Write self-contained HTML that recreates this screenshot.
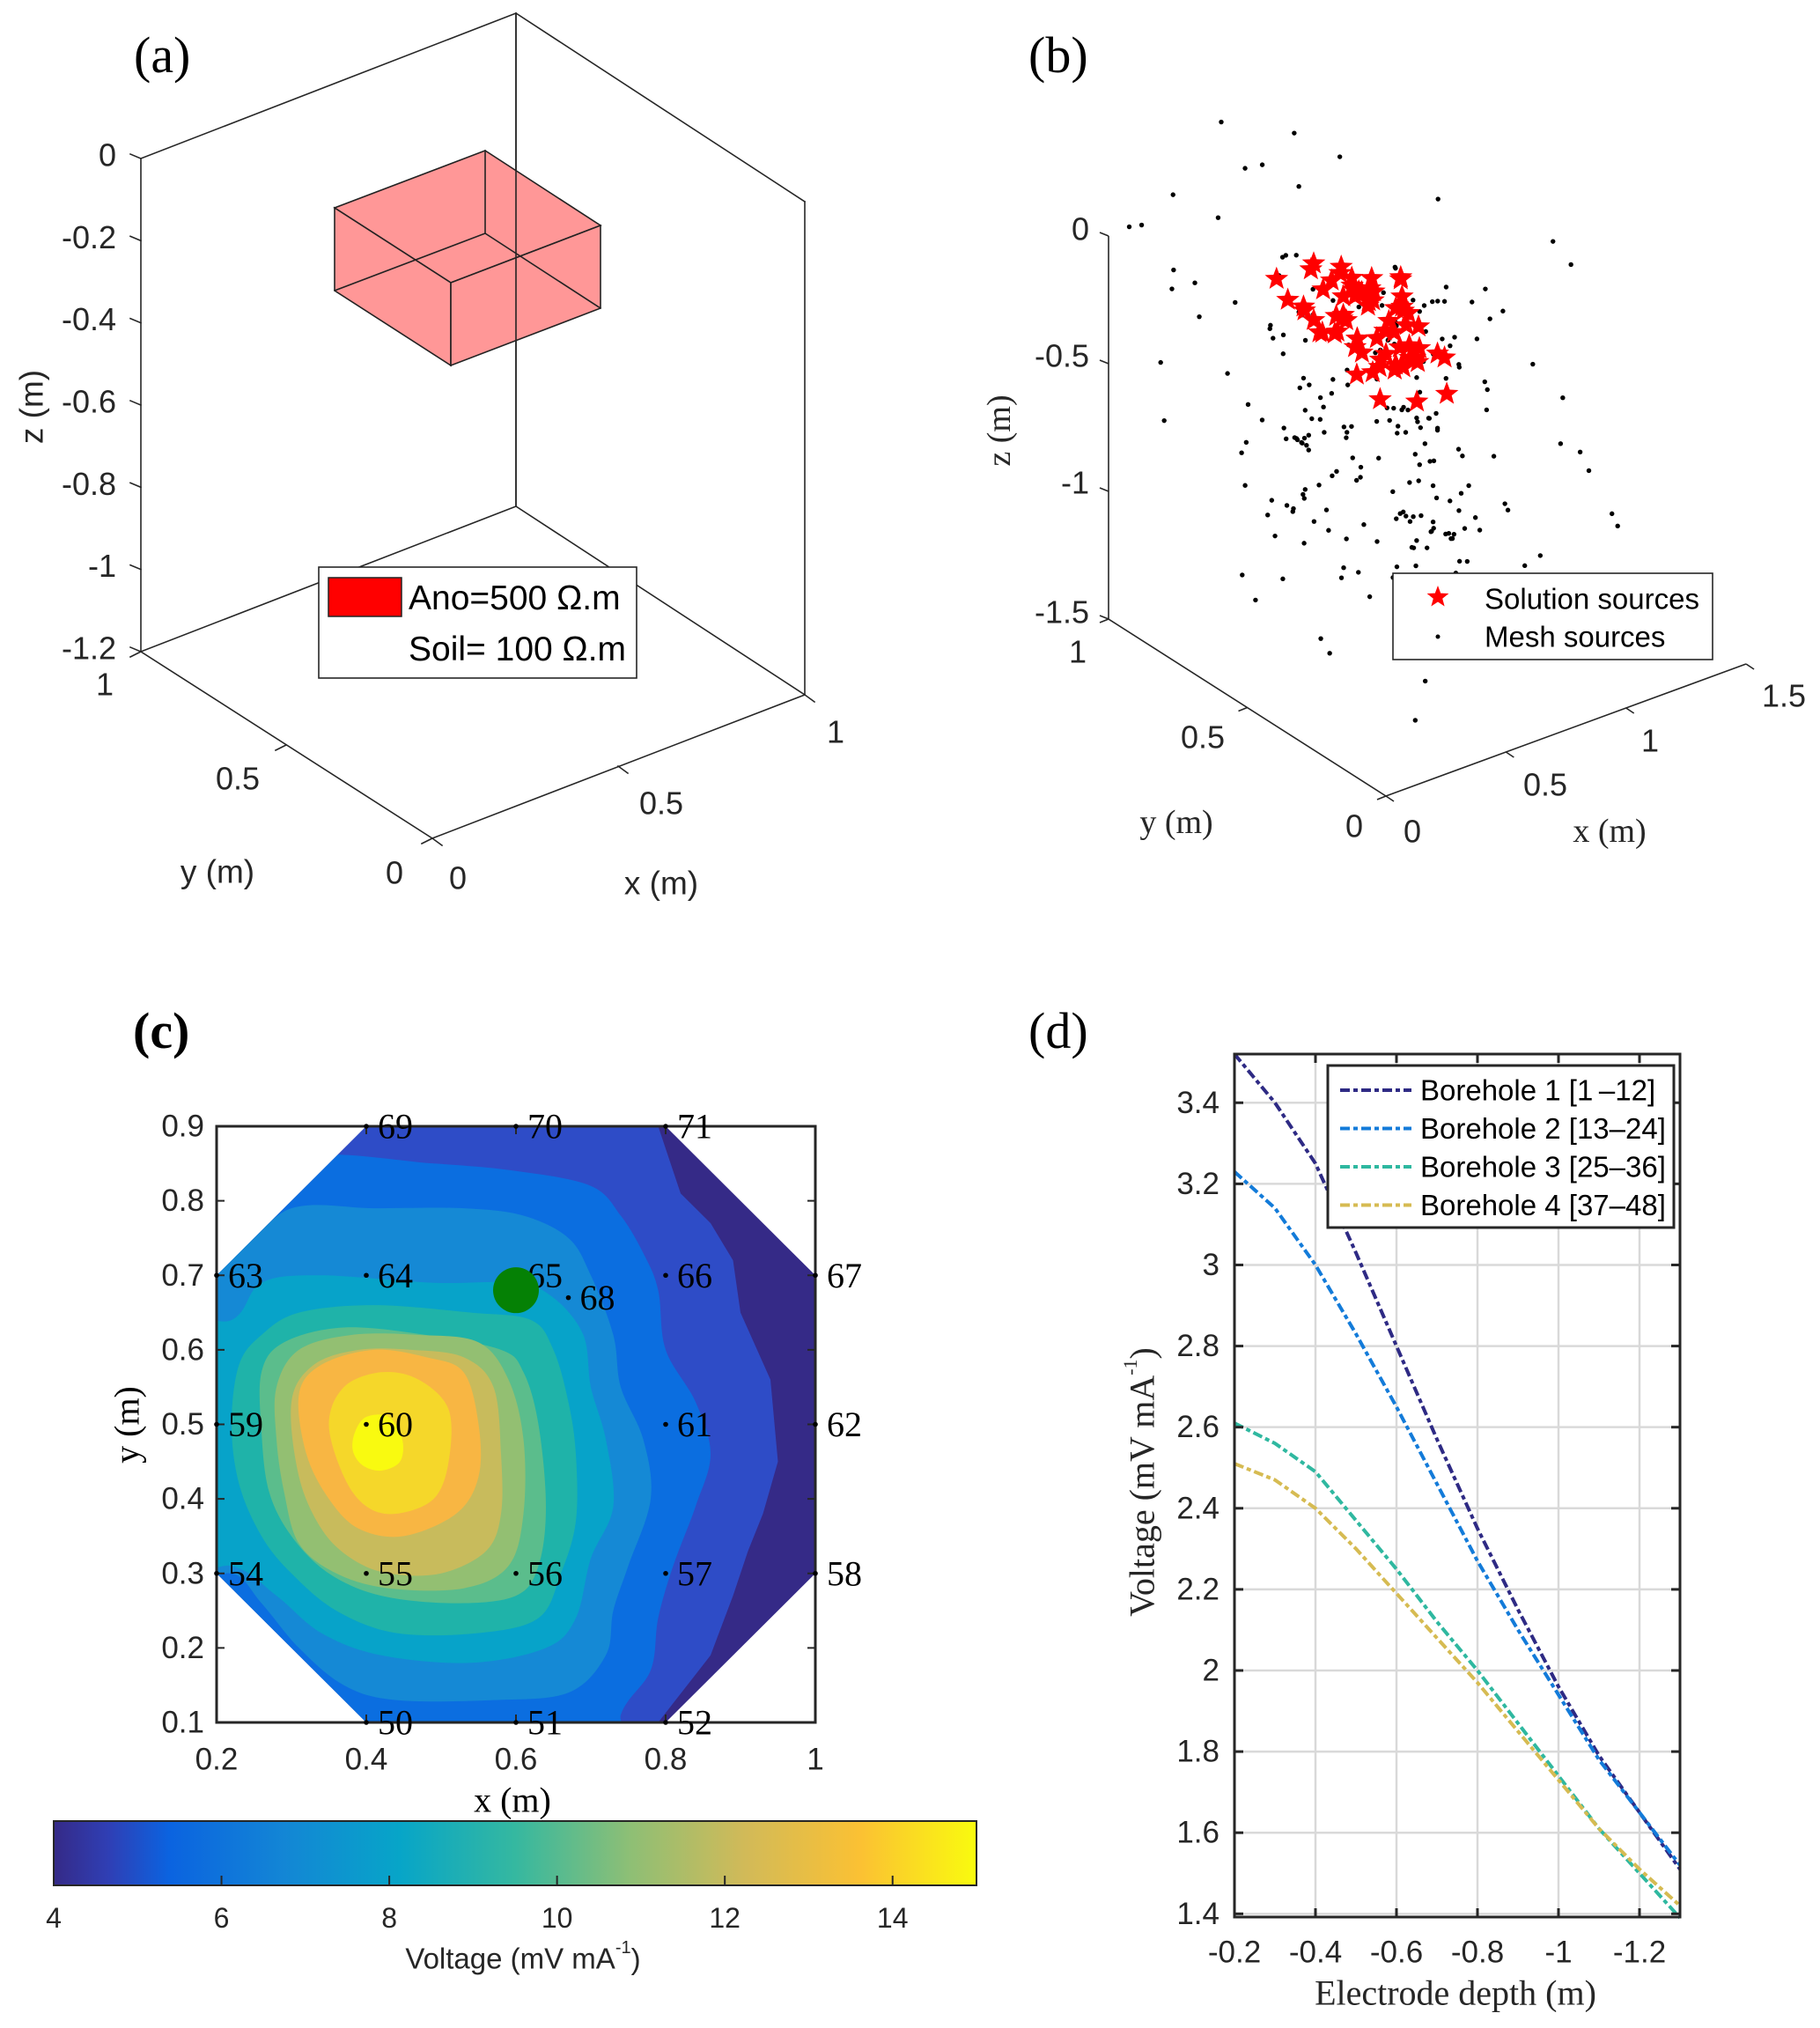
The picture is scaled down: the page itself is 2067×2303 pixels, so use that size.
<!DOCTYPE html>
<html><head><meta charset="utf-8"><style>
html,body{margin:0;padding:0;background:#fff;}
svg{display:block;}
.sans{font-family:"Liberation Sans",sans-serif;}
.serif{font-family:"Liberation Serif",serif;}
</style></head>
<body>
<svg id="fig" width="2067" height="2303" viewBox="0 0 2067 2303" xmlns="http://www.w3.org/2000/svg">
<rect width="2067" height="2303" fill="#fff"/>

<!-- Panel (a) -->
<g id="pa" stroke-linecap="square">
  <text x="152" y="82" class="serif" font-size="58">(a)</text>
  <g stroke="#262626" stroke-width="1.6" fill="none">
    <polyline points="160,180 586,15 914,229"/>
    <line x1="586" y1="15" x2="586" y2="575"/>
    <polyline points="160,740 586,575 914,789"/>
    <line x1="160" y1="180" x2="160" y2="740"/>
    <line x1="914" y1="229" x2="914" y2="789"/>
    <polyline points="160,740 491,952 914,789"/>
  </g>
  <g stroke="#222" stroke-width="1.6">
    <polygon points="380,236 551,171 682,256 512,321" fill="#ff8c8c" fill-opacity="0.9"/>
    <polygon points="380,236 512,321 512,415 380,330" fill="#ff8c8c" fill-opacity="0.9"/>
    <polygon points="512,321 682,256 682,350 512,415" fill="#ff8c8c" fill-opacity="0.9"/>
    <polyline points="380,330 551,265 682,350" fill="none"/>
    <line x1="551" y1="171" x2="551" y2="265"/>
    <line x1="586" y1="15" x2="586" y2="575" stroke="#262626"/>
  </g>
  <g id="pa-zt" class="sans" font-size="36" fill="#262626" text-anchor="end"></g>
  <text transform="translate(36,462) rotate(-90)" class="sans" font-size="37" text-anchor="middle" dominant-baseline="central" fill="#262626">z (m)</text>
  <g class="sans" font-size="36" fill="#262626" text-anchor="middle" dominant-baseline="central">
    <text x="119" y="777">1</text><text x="270" y="884">0.5</text><text x="448" y="991">0</text>
    <text x="520" y="997">0</text><text x="751" y="912">0.5</text><text x="949" y="831">1</text>
  </g>
  <g stroke="#262626" stroke-width="1.6">
    <line x1="160" y1="740" x2="148" y2="746"/><line x1="325" y1="846" x2="313" y2="852"/><line x1="491" y1="952" x2="479" y2="958"/>
    <line x1="491" y1="952" x2="502" y2="960"/><line x1="702" y1="870" x2="713" y2="878"/><line x1="914" y1="789" x2="925" y2="797"/>
  </g>
  <text x="247" y="990" class="sans" font-size="37" text-anchor="middle" dominant-baseline="central" fill="#262626">y (m)</text>
  <text x="751" y="1003" class="sans" font-size="37" text-anchor="middle" dominant-baseline="central" fill="#262626">x (m)</text>
  <g>
    <rect x="362" y="644" width="361" height="126" fill="#fff" stroke="#262626" stroke-width="1.6"/>
    <rect x="373" y="656" width="83" height="44" fill="#ff0000" stroke="#222" stroke-width="1.5"/>
    <text x="464" y="692" class="sans" font-size="39" fill="#000">Ano=500 Ω.m</text>
    <text x="464" y="750" class="sans" font-size="39" fill="#000">Soil= 100 Ω.m</text>
  </g>
</g>

<!-- Panel (b) -->
<g id="pb">
  <text x="1168" y="82" class="serif" font-size="58">(b)</text>
  <g stroke="#262626" stroke-width="1.6" fill="none">
    <polyline points="1259,268 1259,703 1574,904 1983,754"/>
  </g>
  <g id="pb-ticks" stroke="#262626" stroke-width="1.6"></g>
  <g id="pb-dots"></g>
  <g id="pb-stars"></g>
  <g class="sans" font-size="36" fill="#262626" text-anchor="end" dominant-baseline="central">
    <text x="1237" y="260">0</text><text x="1237" y="404">-0.5</text><text x="1237" y="548">-1</text><text x="1237" y="695">-1.5</text>
  </g>
  <g class="sans" font-size="36" fill="#262626" text-anchor="middle" dominant-baseline="central">
    <text x="1224" y="740">1</text><text x="1366" y="837">0.5</text><text x="1538" y="938">0</text>
    <text x="1604" y="944">0</text><text x="1755" y="891">0.5</text><text x="1874" y="841">1</text><text x="2026" y="790">1.5</text>
  </g>
  <text transform="translate(1135,489) rotate(-90)" class="serif" font-size="38" text-anchor="middle" dominant-baseline="central" fill="#262626">z (m)</text>
  <text x="1336" y="934" class="serif" font-size="38" text-anchor="middle" dominant-baseline="central" fill="#262626">y (m)</text>
  <text x="1828" y="944" class="serif" font-size="38" text-anchor="middle" dominant-baseline="central" fill="#262626">x (m)</text>
  <g>
    <rect x="1582" y="651" width="363" height="98" fill="#fff" stroke="#262626" stroke-width="1.6"/>
    <path id="legstar" fill="#ff0000"/>
    <circle cx="1633" cy="723" r="2.5" fill="#000"/>
    <text x="1686" y="680" class="sans" font-size="33" dominant-baseline="central">Solution sources</text>
    <text x="1686" y="723" class="sans" font-size="33" dominant-baseline="central">Mesh sources</text>
  </g>
</g>

<!-- Panel (c) -->
<g id="pc">
  <text x="151" y="1190" class="serif" font-size="58" font-weight="bold">(c)</text>
  <defs>
    <clipPath id="oct"><polygon id="octpoly"/></clipPath>
    <linearGradient id="parula" x1="0" x2="1" y1="0" y2="0">
      <stop offset="0" stop-color="#352a87"/><stop offset="0.06" stop-color="#2f3fb5"/><stop offset="0.125" stop-color="#0b63e0"/>
      <stop offset="0.25" stop-color="#1386d5"/><stop offset="0.375" stop-color="#07a5c8"/><stop offset="0.5" stop-color="#35b8a0"/>
      <stop offset="0.625" stop-color="#8ebf75"/><stop offset="0.75" stop-color="#d2ba58"/><stop offset="0.875" stop-color="#fbc133"/>
      <stop offset="1" stop-color="#f9fb0e"/>
    </linearGradient>
  </defs>
  <g id="pc-contours" clip-path="url(#oct)"></g>
  <rect x="246" y="1279" width="680" height="677" fill="none" stroke="#262626" stroke-width="3"/>
  <g id="pc-ticks"></g>
  <g id="pc-elec"></g>
  <circle id="greendot" r="26" fill="#058105"/>
  <text x="582" y="2044" class="serif" font-size="40" text-anchor="middle" dominant-baseline="central">x (m)</text>
  <text transform="translate(144,1618) rotate(-90)" class="serif" font-size="40" text-anchor="middle" dominant-baseline="central">y (m)</text>
  <rect x="61" y="2068" width="1048" height="73" fill="url(#parula)" stroke="#262626" stroke-width="2"/>
  <g id="cb-ticks"></g>
  <text x="594" y="2224" class="sans" font-size="33" text-anchor="middle" dominant-baseline="central" fill="#262626">Voltage (mV mA<tspan dy="-12" font-size="20">-1</tspan><tspan dy="12">)</tspan></text>
</g>

<!-- Panel (d) -->
<g id="pd">
  <text x="1168" y="1190" class="serif" font-size="58">(d)</text>
  <g id="pd-grid"></g>
  <g id="pd-lines"></g>
  <rect x="1402" y="1197" width="506" height="980" fill="none" stroke="#262626" stroke-width="3"/>
  <g id="pd-ticks"></g>
  <text x="1653" y="2263" class="serif" font-size="40" text-anchor="middle" dominant-baseline="central" fill="#262626">Electrode depth (m)</text>
  <text transform="translate(1297,1683) rotate(-90)" class="serif" font-size="40" text-anchor="middle" dominant-baseline="central" fill="#262626">Voltage (mV mA<tspan dy="-14" font-size="22">-1</tspan><tspan dy="14">)</tspan></text>
  <g id="pd-legend">
    <rect x="1508" y="1210" width="393" height="184" fill="#fff" stroke="#262626" stroke-width="3"/>
  </g>
</g>
</svg>

<script>
const NS = "http://www.w3.org/2000/svg";
function mk(tag, attrs, parent){ const e=document.createElementNS(NS,tag); for(const k in attrs) e.setAttribute(k,attrs[k]); parent.appendChild(e); return e; }

// ---------- Panel (a) ticks ----------
const zTicksA = [0,-0.2,-0.4,-0.6,-0.8,-1,-1.2];
const zTickLabelsA = ["0","-0.2","-0.4","-0.6","-0.8","-1","-1.2"];
(function(){
  const g=document.getElementById('pa-zt');
  const zy = v => 180 + (0 - v)/1.2*(740-180);
  zTicksA.forEach((v,i)=>{
    const t=mk('text',{x:132,y:zy(v)-4,'dominant-baseline':'central'},g);
    
    
    t.textContent=zTickLabelsA[i];
    const l=mk('line',{x1:160,y1:zy(v),x2:148,y2:zy(v)-5,stroke:'#262626','stroke-width':1.6},g);
    
    
  });
})();

// ---------- Panel (b) scatter ----------
const meshX=[0.12,0.85,0.43,0.67,0.29,0.95,0.51,0.08,0.74,0.36,1.05,0.22,0.60,0.88,0.15,0.47,0.79,0.33,0.98,0.55,0.05,0.70,0.41,1.12,0.26,0.63,0.91,0.18,0.52,0.83,0.38,0.02,0.76,0.45,1.08,0.31,0.66,0.94,0.10,0.58,0.81,0.24,1.15,0.49,0.72,0.35,0.90,0.14,0.62,1.00,0.40,0.77,0.20,0.56,0.86,0.30,1.10,0.68,0.44,0.07,0.93,0.53,0.27,0.80,0.39,1.02,0.16,0.64,0.89,0.48,0.23,0.75,0.57,0.97,0.34,0.11,0.69,0.46,0.84,0.28,1.06,0.59,0.19,0.73,0.42,0.96,0.32,0.65,0.09,0.87,0.50,0.25,0.78,0.37,1.13,0.61,0.17,0.82,0.54,0.04,0.71,0.44,0.99,0.30,0.66,0.13,0.92,0.58,0.21,0.76,0.40,1.04,0.52,0.86,0.35,0.70,0.06,0.62,0.95,0.27,
0.45,0.52,0.38,0.61,0.29,0.70,0.55,0.42,0.66,0.33,0.58,0.47,0.74,0.36,0.50,0.63,0.27,0.56,0.44,0.68,0.31,0.59,0.48,0.72,0.39,0.53,0.64,0.35,0.46,0.60,0.41,0.77,0.51,0.34,0.57,0.43,0.69,0.37,0.62,0.49,
0.58,0.36,0.71,0.44,0.50,0.26,0.65,0.40,0.82,0.53,0.31,0.61,0.47,0.75,0.38,0.56,0.68,0.43,0.29,0.60,0.52,0.79,0.35,0.64,0.45,0.72,0.33,0.57,0.48,0.85,0.41,0.62,0.54,0.30,0.69,0.46,0.76,0.39,0.59,0.51,
0.63,0.40,0.55,0.32,0.74,0.47,0.28,0.67,0.51,0.84,0.37,0.60,0.44,0.71,0.34,0.57,0.80,0.49,0.25,0.65,0.42,0.73,0.54,0.30,0.61,0.46,0.88,0.38,0.58,0.69,0.43,0.52,0.77,0.35,0.66,0.48,0.59,0.27,0.70,0.45];
const meshY=[0.55,0.20,0.88,0.41,0.07,0.66,0.32,0.95,0.14,0.73,0.48,0.27,0.85,0.03,0.60,0.38,0.92,0.18,0.51,0.79,0.25,0.62,0.10,0.44,0.83,0.30,0.69,0.05,0.57,0.36,0.90,0.22,0.47,0.76,0.12,0.64,0.34,0.98,0.42,0.08,0.71,0.53,0.16,0.87,0.29,0.60,0.39,0.81,0.23,0.50,0.94,0.11,0.67,0.45,0.02,0.78,0.35,0.58,0.19,0.86,0.43,0.70,0.26,0.63,0.09,0.52,0.91,0.31,0.74,0.15,0.56,0.84,0.40,0.21,0.68,0.33,0.97,0.49,0.06,0.75,0.28,0.61,0.93,0.37,0.13,0.80,0.54,0.24,0.89,0.46,0.17,0.72,0.59,0.01,0.65,0.42,0.82,0.27,0.50,0.96,0.38,0.15,0.77,0.55,0.30,0.88,0.44,0.68,0.04,0.62,0.35,0.20,0.85,0.48,0.10,0.73,0.57,0.32,0.92,0.66,
0.48,0.35,0.62,0.28,0.55,0.42,0.67,0.31,0.50,0.58,0.25,0.44,0.60,0.37,0.70,0.33,0.52,0.46,0.64,0.29,0.57,0.40,0.72,0.36,0.49,0.61,0.27,0.54,0.43,0.66,0.32,0.51,0.39,0.63,0.45,0.30,0.56,0.68,0.41,0.53,
0.33,0.59,0.45,0.71,0.26,0.52,0.38,0.64,0.47,0.30,0.68,0.41,0.55,0.23,0.62,0.36,0.49,0.74,0.57,0.40,0.28,0.53,0.66,0.44,0.35,0.61,0.50,0.77,0.39,0.46,0.58,0.31,0.69,0.42,0.54,0.25,0.63,0.48,0.37,0.72,
0.41,0.66,0.29,0.54,0.47,0.73,0.38,0.60,0.32,0.51,0.69,0.44,0.27,0.58,0.49,0.35,0.63,0.42,0.76,0.53,0.30,0.67,0.46,0.57,0.39,0.70,0.34,0.52,0.61,0.43,0.25,0.59,0.48,0.71,0.36,0.55,0.40,0.65,0.50,0.31];
const meshZ=[-0.45,-1.10,0.20,-0.80,-0.15,-1.25,-0.60,0.05,-0.95,-0.30,-1.05,-0.70,0.30,-0.55,-1.20,-0.10,-0.85,-0.40,-1.15,0.15,-0.65,-0.25,-1.00,-0.50,0.10,-0.90,-0.35,-1.30,-0.75,-0.05,-0.60,-1.10,0.25,-0.45,-0.85,-1.20,-0.20,0.00,-0.70,-1.00,-0.30,-0.55,-0.95,0.20,-1.15,-0.40,-0.75,-0.10,-1.25,-0.60,0.35,-0.90,-0.50,-0.15,-1.05,-0.80,0.05,-0.35,-1.20,-0.65,-0.25,-0.95,-0.45,-1.10,0.10,-0.70,-0.20,-1.30,-0.55,-0.85,0.15,-0.40,-1.00,-0.60,-0.05,-1.15,-0.30,-0.75,0.25,-0.90,-0.50,-1.25,-0.15,-0.65,-1.05,-0.35,0.00,-0.80,-0.45,-1.20,-0.10,-0.70,-0.95,0.30,-0.55,-1.10,-0.25,-0.85,-0.40,0.05,-1.00,-0.60,-1.30,-0.20,-0.75,0.20,-0.50,-0.90,-1.15,-0.35,-0.05,-0.65,-1.25,-0.45,0.10,-0.80,-1.05,-0.30,-0.55,-0.95,
-0.70,-0.95,-0.55,-1.05,-0.80,-0.60,-0.90,-1.15,-0.65,-0.85,-1.00,-0.50,-0.75,-1.10,-0.68,-0.92,-0.58,-0.82,-1.02,-0.72,-0.62,-0.98,-0.78,-0.88,-1.08,-0.66,-0.86,-0.52,-0.96,-0.74,-1.12,-0.64,-0.84,-0.94,-0.56,-0.76,-1.04,-0.70,-0.90,-0.80,
-0.88,-0.62,-1.02,-0.74,-0.54,-0.96,-0.82,-0.68,-1.10,-0.58,-0.92,-0.76,-0.64,-1.06,-0.86,-0.50,-0.98,-0.72,-0.60,-1.14,-0.80,-0.66,-0.94,-0.56,-1.00,-0.70,-0.84,-0.62,-1.08,-0.78,-0.52,-0.90,-0.74,-1.04,-0.60,-0.86,-0.68,-0.96,-0.58,-0.82,
-0.30,-0.20,-0.45,-0.10,-0.35,-0.05,-0.25,-0.40,0.00,-0.15,-0.30,-0.50,-0.20,-0.08,-0.38,-0.12,-0.28,-0.44,-0.18,-0.02,-0.33,-0.48,-0.22,-0.40,-0.06,-0.26,-0.14,-0.36,-0.46,-0.10,-0.24,-0.42,-0.16,-0.32,-0.04,-0.28,-0.50,-0.20,-0.38,-0.12];
const starX=[0.35,0.42,0.50,0.58,0.65,0.38,0.45,0.55,0.62,0.70,0.30,0.48,0.53,0.60,0.40,0.57,0.66,0.44,0.51,0.36,0.63,0.47,0.54,0.72,0.33,0.59,0.41,0.68,0.49,0.56,
0.40,0.47,0.52,0.58,0.44,0.50,0.55,0.61,0.37,0.43,0.49,0.56,0.63,0.46,0.53,0.59,0.41,0.48,0.54,0.60,0.39,0.45,0.51,0.57,0.64,0.42,0.50,0.55,0.62,0.46,0.52,0.58,0.44,0.49,0.54,0.61,0.40,0.47,0.53,0.59];
const starY=[0.60,0.45,0.55,0.40,0.50,0.35,0.65,0.48,0.58,0.42,0.52,0.38,0.62,0.30,0.70,0.44,0.36,0.56,0.33,0.47,0.61,0.53,0.41,0.57,0.68,0.50,0.46,0.64,0.59,0.37,
0.50,0.55,0.45,0.60,0.40,0.52,0.58,0.47,0.56,0.42,0.62,0.38,0.51,0.46,0.57,0.43,0.53,0.60,0.35,0.49,0.44,0.66,0.41,0.54,0.48,0.59,0.37,0.63,0.45,0.52,0.40,0.56,0.61,0.34,0.50,0.47,0.64,0.43,0.57,0.39];
const starZ=[-0.12,-0.22,-0.07,-0.27,-0.17,-0.32,-0.02,-0.20,-0.14,-0.30,-0.10,-0.24,-0.04,-0.34,-0.18,0.03,-0.26,-0.16,-0.36,-0.08,-0.22,0.00,-0.28,-0.12,-0.06,-0.19,-0.31,-0.15,-0.03,-0.25,
-0.10,-0.18,-0.26,-0.14,-0.22,-0.06,-0.30,-0.12,-0.20,-0.28,-0.08,-0.24,-0.16,-0.04,-0.32,-0.11,-0.19,-0.27,-0.09,-0.23,-0.15,-0.05,-0.29,-0.13,-0.21,-0.07,-0.25,-0.17,-0.31,-0.02,-0.20,-0.10,-0.26,-0.14,-0.24,-0.08,-0.18,-0.28,-0.12,-0.22];
const projB = (x,y,z) => [1574 + x*272.7 - y*315, 904 - x*100 - y*201 - (z+1.5)*290];
function starPath(cx,cy,r){
  let d='';
  for(let i=0;i<10;i++){
    const a=-Math.PI/2+i*Math.PI/5, rr=(i%2?r*0.42:r);
    d+=(i?'L':'M')+(cx+rr*Math.cos(a)).toFixed(1)+','+(cy+rr*Math.sin(a)).toFixed(1);
  }
  return d+'Z';
}
(function(){
  const gd=document.getElementById('pb-dots');
  const n=Math.min(meshX.length,meshY.length,meshZ.length);
  for(let i=0;i<n;i++){
    const p=projB(meshX[i],meshY[i],meshZ[i]);
    const c=mk('circle',{cx:p[0],cy:p[1],r:2.7,fill:'#000'},gd);
    
    
  }
  const gs=document.getElementById('pb-stars');
  const m=Math.min(starX.length,starY.length,starZ.length);
  for(let i=0;i<m;i++){
    const p=projB(starX[i],starY[i],starZ[i]);
    const s=mk('path',{d:starPath(p[0],p[1],14),fill:'#ff0000'},gs);
    
    
  }
  document.getElementById('legstar').setAttribute('d',starPath(1633,678,13));
  const gt=document.getElementById('pb-ticks');
  [0,-0.5,-1,-1.5].forEach(z=>{const p=projB(0,1,z); mk('line',{x1:p[0],y1:p[1],x2:p[0]-10,y2:p[1]-4},gt);});
  [0,0.5,1].forEach(y=>{const p=projB(0,y,-1.5); mk('line',{x1:p[0],y1:p[1],x2:p[0]-10,y2:p[1]+4},gt);});
  [0,0.5,1,1.5].forEach(x=>{const p=projB(x,0,-1.5); mk('line',{x1:p[0],y1:p[1],x2:p[0]+9,y2:p[1]+6},gt);});
})();

// ---------- Panel (c) contours ----------
const cxs = x => 246 + (x-0.2)*850;
const cys = y => 1279 + (0.9-y)*846.25;
const octagon=[[0.4,0.9],[0.8,0.9],[1.0,0.7],[1.0,0.3],[0.8,0.1],[0.4,0.1],[0.2,0.3],[0.2,0.7]];
const levelColors=["#352a87","#2e4cc7","#0b6ee0","#1589d5","#07a3c9","#1fb3a9","#5bbd8c","#93bf72","#c8bb5c","#f8b643","#f5d72a","#f9fa10"];
const lev1=[[0.1,0],[1.1,0],[1.1,1],[0.1,1]];
const lev2=[[0.1,0.05],[0.1,0.95],[0.76,0.98],[0.79,0.9],[0.82,0.81],[0.86,0.77],[0.89,0.72],[0.9,0.65],[0.94,0.56],[0.95,0.45],[0.93,0.38],[0.91,0.33],[0.89,0.27],[0.86,0.19],[0.79,0.1],[0.76,0.02]];
const lev3=[[0.1,0.05],[0.1,0.8],[0.3,0.86],[0.49,0.85],[0.6,0.84],[0.7,0.82],[0.74,0.78],[0.77,0.73],[0.79,0.68],[0.8,0.6],[0.84,0.53],[0.86,0.46],[0.84,0.39],[0.81,0.31],[0.79,0.24],[0.78,0.17],[0.74,0.11],[0.73,0.02]];
const lev4=[[0.1,0.3],[0.12,0.74],[0.22,0.73],[0.3,0.79],[0.41,0.79],[0.53,0.79],[0.61,0.78],[0.67,0.75],[0.7,0.7],[0.73,0.62],[0.74,0.55],[0.77,0.48],[0.78,0.4],[0.75,0.31],[0.73,0.25],[0.72,0.19],[0.67,0.14],[0.57,0.13],[0.44,0.13],[0.37,0.15],[0.31,0.2],[0.26,0.26],[0.22,0.3],[0.15,0.28]];
const lev5=[[0.12,0.31],[0.12,0.62],[0.22,0.64],[0.26,0.69],[0.34,0.7],[0.49,0.69],[0.6,0.69],[0.65,0.67],[0.69,0.62],[0.7,0.55],[0.72,0.48],[0.73,0.39],[0.7,0.32],[0.68,0.24],[0.64,0.2],[0.54,0.18],[0.42,0.19],[0.34,0.22],[0.28,0.27],[0.22,0.31]];
const lev6=[[0.23,0.58],[0.26,0.62],[0.31,0.65],[0.41,0.66],[0.54,0.65],[0.62,0.64],[0.65,0.6],[0.67,0.53],[0.68,0.46],[0.68,0.37],[0.66,0.3],[0.63,0.24],[0.55,0.22],[0.44,0.22],[0.36,0.25],[0.3,0.3],[0.26,0.35],[0.23,0.42],[0.22,0.5]];
const lev7=[[0.26,0.57],[0.29,0.61],[0.37,0.63],[0.48,0.62],[0.58,0.6],[0.61,0.57],[0.63,0.5],[0.64,0.39],[0.63,0.31],[0.6,0.27],[0.52,0.26],[0.42,0.27],[0.35,0.3],[0.3,0.35],[0.27,0.41],[0.26,0.49]];
const lev8=[[0.28,0.55],[0.31,0.6],[0.38,0.62],[0.47,0.62],[0.55,0.61],[0.59,0.56],[0.61,0.48],[0.61,0.38],[0.59,0.31],[0.53,0.28],[0.43,0.28],[0.36,0.3],[0.31,0.34],[0.29,0.41],[0.28,0.48]];
const lev9=[[0.3,0.53],[0.33,0.58],[0.39,0.6],[0.46,0.6],[0.53,0.59],[0.57,0.55],[0.58,0.46],[0.58,0.38],[0.56,0.33],[0.5,0.3],[0.43,0.3],[0.38,0.32],[0.34,0.36],[0.31,0.43]];
const lev10=[[0.31,0.54],[0.34,0.58],[0.41,0.6],[0.48,0.59],[0.53,0.57],[0.55,0.5],[0.55,0.43],[0.52,0.38],[0.45,0.35],[0.39,0.36],[0.35,0.4],[0.32,0.46]];
const lev11=[[0.35,0.5],[0.37,0.55],[0.42,0.57],[0.47,0.56],[0.51,0.52],[0.51,0.45],[0.49,0.4],[0.44,0.38],[0.4,0.39],[0.37,0.43]];
const lev12=[[0.385,0.49],[0.4,0.51],[0.43,0.51],[0.448,0.48],[0.445,0.45],[0.42,0.438],[0.395,0.445],[0.382,0.465]];
const levels=[lev1,lev2,lev3,lev4,lev5,lev6,lev7,lev8,lev9,lev10,lev11,lev12];
const cTicksX=[0.2,0.4,0.6,0.8,1.0], cTickLabelsX=["0.2","0.4","0.6","0.8","1"];
const cTicksY=[0.1,0.2,0.3,0.4,0.5,0.6,0.7,0.8,0.9], cTickLabelsY=["0.1","0.2","0.3","0.4","0.5","0.6","0.7","0.8","0.9"];
const elecX=[0.4,0.6,0.8,0.2,0.4,0.6,0.8,1.0,0.67,0.2,0.4,0.8,1.0,0.2,0.4,0.6,0.8,1.0,0.4,0.6,0.8];
const elecY=[0.9,0.9,0.9,0.7,0.7,0.7,0.7,0.7,0.67,0.5,0.5,0.5,0.5,0.3,0.3,0.3,0.3,0.3,0.1,0.1,0.1];
const elecLabels=["69","70","71","63","64","65","66","67","68","59","60","61","62","54","55","56","57","58","50","51","52"];
const sourcePos=[0.6,0.68];
const cbTicks=[4,6,8,10,12,14];
const cbMin=4, cbMax=15;
function smoothClosed(P){
  const n=P.length; let d='M'+P[0][0].toFixed(1)+','+P[0][1].toFixed(1);
  for(let i=0;i<n;i++){
    const p0=P[(i-1+n)%n],p1=P[i],p2=P[(i+1)%n],p3=P[(i+2)%n];
    const c1=[p1[0]+(p2[0]-p0[0])/6,p1[1]+(p2[1]-p0[1])/6];
    const c2=[p2[0]-(p3[0]-p1[0])/6,p2[1]-(p3[1]-p1[1])/6];
    d+='C'+c1[0].toFixed(1)+','+c1[1].toFixed(1)+' '+c2[0].toFixed(1)+','+c2[1].toFixed(1)+' '+p2[0].toFixed(1)+','+p2[1].toFixed(1);
  }
  return d+'Z';
}
(function(){
  const pts = arr => arr.map(p=>cxs(p[0]).toFixed(1)+','+cys(p[1]).toFixed(1)).join(' ');
  document.getElementById('octpoly').setAttribute('points',pts(octagon));
  const g=document.getElementById('pc-contours');
  levels.forEach((lv,i)=>{
    const P=lv.map(p=>[cxs(p[0]),cys(p[1])]);
    const p=mk('path',{d:(i<2?'M'+P.map(q=>q[0].toFixed(1)+','+q[1].toFixed(1)).join('L')+'Z':smoothClosed(P)),fill:levelColors[i]},g);
    
    
  });
  const gt=document.getElementById('pc-ticks');
  cTicksX.forEach((v,i)=>{
    mk('line',{x1:cxs(v),y1:1956,x2:cxs(v),y2:1947,stroke:'#262626','stroke-width':2},gt);
    mk('line',{x1:cxs(v),y1:1279,x2:cxs(v),y2:1288,stroke:'#262626','stroke-width':2},gt);
    const t=mk('text',{x:cxs(v),y:1998,'text-anchor':'middle','dominant-baseline':'central','font-size':35,fill:'#262626',class:'sans'},gt);
    
    
    t.textContent=cTickLabelsX[i];
  });
  cTicksY.forEach((v,i)=>{
    mk('line',{x1:246,y1:cys(v),x2:255,y2:cys(v),stroke:'#262626','stroke-width':2},gt);
    mk('line',{x1:926,y1:cys(v),x2:917,y2:cys(v),stroke:'#262626','stroke-width':2},gt);
    const t=mk('text',{x:232,y:cys(v),'text-anchor':'end','dominant-baseline':'central','font-size':35,fill:'#262626',class:'sans'},gt);
    
    
    t.textContent=cTickLabelsY[i];
  });
  const ge=document.getElementById('pc-elec');
  elecX.forEach((x,i)=>{
    const c=mk('circle',{cx:cxs(x),cy:cys(elecY[i]),r:2.8,fill:'#000'},ge);
    
    
    const t=mk('text',{x:cxs(x)+13,y:cys(elecY[i]),'dominant-baseline':'central','font-size':40,fill:'#000',class:'serif'},ge);
    
    
    t.textContent=elecLabels[i];
  });
  const gd=document.getElementById('greendot');
  gd.setAttribute('cx',cxs(sourcePos[0])); gd.setAttribute('cy',cys(sourcePos[1]));
  const gc=document.getElementById('cb-ticks');
  const cbx = v => 61 + (v-cbMin)/(cbMax-cbMin)*1048;
  cbTicks.forEach(v=>{
    mk('line',{x1:cbx(v),y1:2141,x2:cbx(v),y2:2130,stroke:'#262626','stroke-width':2},gc);
    const t=mk('text',{x:cbx(v),y:2178,'text-anchor':'middle','dominant-baseline':'central','font-size':32,fill:'#262626',class:'sans'},gc);
    
    
    t.textContent=String(v);
  });
})();

// ---------- Panel (d) ----------
const depths=[-0.2,-0.3,-0.4,-0.5,-0.6,-0.7,-0.8,-0.9,-1.0,-1.1,-1.2,-1.3];
const bh1=[3.52,3.40,3.25,3.03,2.80,2.57,2.35,2.15,1.96,1.79,1.65,1.51];
const bh2=[3.23,3.14,3.00,2.83,2.65,2.46,2.27,2.10,1.94,1.78,1.65,1.52];
const bh3=[2.61,2.56,2.49,2.37,2.25,2.12,2.00,1.87,1.74,1.61,1.50,1.39];
const bh4=[2.51,2.47,2.40,2.30,2.19,2.08,1.97,1.85,1.73,1.61,1.51,1.42];
const seriesNames=["Borehole 1 [1\u2009\u201312]","Borehole 2 [13\u201324]","Borehole 3 [25\u201336]","Borehole 4 [37\u201348]"];
const seriesColors=["#2e2a84","#137bd9","#2fb8a0","#d6bb52"];
const dTicksX=[-0.2,-0.4,-0.6,-0.8,-1,-1.2], dTickLabelsX=["-0.2","-0.4","-0.6","-0.8","-1","-1.2"];
const dTicksY=[1.4,1.6,1.8,2,2.2,2.4,2.6,2.8,3,3.2,3.4], dTickLabelsY=["1.4","1.6","1.8","2","2.2","2.4","2.6","2.8","3","3.2","3.4"];
(function(){
  const xMin=-0.2,xMax=-1.3,yMin=1.392,yMax=3.52;
  const dx = v => 1402 + (v-xMin)/(xMax-xMin)*506;
  const dy = v => 2177 - (v-yMin)/(yMax-yMin)*980;
  const gg=document.getElementById('pd-grid');
  dTicksX.forEach(v=>mk('line',{x1:dx(v),y1:1197,x2:dx(v),y2:2177,stroke:'#d9d9d9','stroke-width':2.5},gg));
  dTicksY.forEach(v=>mk('line',{x1:1402,y1:dy(v),x2:1908,y2:dy(v),stroke:'#d9d9d9','stroke-width':2.5},gg));
  const gl=document.getElementById('pd-lines');
  [bh1,bh2,bh3,bh4].forEach((s,k)=>{
    const d=s.map((v,i)=>(i?'L':'M')+dx(depths[i]).toFixed(1)+','+dy(v).toFixed(1)).join('');
    const p=mk('path',{d:d,fill:'none',stroke:seriesColors[k],'stroke-width':4,'stroke-dasharray':'11,4,5,4'},gl);
    
    
  });
  const gt=document.getElementById('pd-ticks');
  dTicksX.forEach((v,i)=>{
    mk('line',{x1:dx(v),y1:2177,x2:dx(v),y2:2167,stroke:'#262626','stroke-width':3},gt);
    mk('line',{x1:dx(v),y1:1197,x2:dx(v),y2:1207,stroke:'#262626','stroke-width':3},gt);
    const t=mk('text',{x:dx(v),y:2217,'text-anchor':'middle','dominant-baseline':'central','font-size':35,fill:'#262626',class:'sans'},gt);
    
    
    t.textContent=dTickLabelsX[i];
  });
  dTicksY.forEach((v,i)=>{
    mk('line',{x1:1402,y1:dy(v),x2:1412,y2:dy(v),stroke:'#262626','stroke-width':3},gt);
    mk('line',{x1:1908,y1:dy(v),x2:1898,y2:dy(v),stroke:'#262626','stroke-width':3},gt);
    const t=mk('text',{x:1385,y:dy(v),'text-anchor':'end','dominant-baseline':'central','font-size':35,fill:'#262626',class:'sans'},gt);
    
    
    t.textContent=dTickLabelsY[i];
  });
  const gleg=document.getElementById('pd-legend');
  seriesNames.forEach((n,k)=>{
    const cy=1238+k*43.5;
    const l=mk('line',{x1:1522,y1:cy,x2:1603,y2:cy,stroke:seriesColors[k],'stroke-width':4,'stroke-dasharray':'11,4,5,4'},gleg);
    
    
    const t=mk('text',{x:1613,y:cy,'dominant-baseline':'central','font-size':33,fill:'#000',class:'sans'},gleg);
    
    
    t.textContent=n;
  });
})();
</script>
</body></html>
